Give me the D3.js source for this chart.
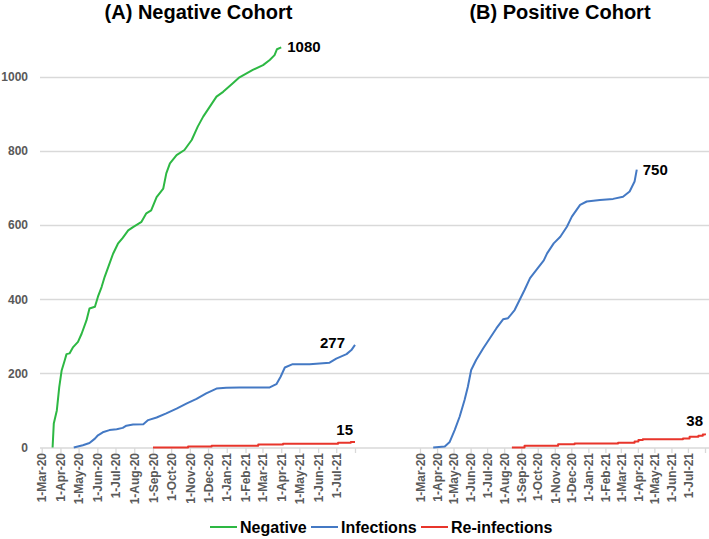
<!DOCTYPE html>
<html>
<head>
<meta charset="utf-8">
<script src="https://cdn.jsdelivr.net/npm/d3@7"></script>
<style>
  html, body { margin: 0; padding: 0; background: #fff; }
  svg { display: block; font-family: Arial, "Liberation Sans", sans-serif; }
</style>
</head>
<body>
<svg id="chart" width="709" height="539"></svg>
<script>
// ---------------- DATA ----------------
const panelTitles = ["(A) Negative Cohort", "(B) Positive Cohort"];
const seriesNames = ["Negative", "Infections", "Re-infections"];
const yTicks = [0, 200, 400, 600, 800, 1000];
const tickDates = ["2020-03-01","2020-04-01","2020-05-01","2020-06-01","2020-07-01","2020-08-01",
  "2020-09-01","2020-10-01","2020-11-01","2020-12-01","2021-01-01","2021-02-01","2021-03-01",
  "2021-04-01","2021-05-01","2021-06-01","2021-07-01","2021-08-01"];
const tickLabels = ["1-Mar-20","1-Apr-20","1-May-20","1-Jun-20","1-Jul-20","1-Aug-20","1-Sep-20",
  "1-Oct-20","1-Nov-20","1-Dec-20","1-Jan-21","1-Feb-21","1-Mar-21","1-Apr-21","1-May-21",
  "1-Jun-21","1-Jul-21",""];

// Panel A
const negCohortNegative = [
  ["2020-03-19",0],["2020-03-21",65],["2020-03-26",100],["2020-03-30",163],["2020-04-03",208],
  ["2020-04-08",235],["2020-04-11",252],["2020-04-16",254],["2020-04-22",271],["2020-04-30",285],
  ["2020-05-06",307],["2020-05-14",343],["2020-05-19",375],["2020-05-28",380],["2020-06-02",407],
  ["2020-06-08",433],["2020-06-13",460],["2020-06-19",487],["2020-06-27",523],["2020-07-05",550],
  ["2020-07-13",566],["2020-07-22",586],["2020-07-30",595],["2020-08-13",609],["2020-08-21",632],
  ["2020-08-29",640],["2020-09-07",676],["2020-09-18",699],["2020-09-23",740],["2020-09-29",767],
  ["2020-10-10",789],["2020-10-23",803],["2020-11-04",830],["2020-11-14",866],["2020-11-23",893],
  ["2020-12-04",920],["2020-12-15",947],["2020-12-26",960],["2021-01-11",983],["2021-01-22",999],
  ["2021-02-13",1019],["2021-03-02",1032],["2021-03-13",1046],["2021-03-21",1059],["2021-03-25",1075],
  ["2021-04-01",1080]];
const negCohortInfections = [
  ["2020-04-23",0],["2020-05-08",6],["2020-05-19",12],["2020-05-28",24],["2020-06-02",33],
  ["2020-06-10",41],["2020-06-21",47],["2020-07-03",49],["2020-07-13",53],["2020-07-19",59],
  ["2020-07-30",62],["2020-08-16",63],["2020-08-24",74],["2020-09-07",81],["2020-09-23",92],
  ["2020-10-10",105],["2020-10-27",119],["2020-11-12",131],["2020-11-28",146],["2020-12-15",159],
  ["2020-12-31",161],["2021-01-22",162],["2021-02-13",162],["2021-03-13",162],["2021-03-24",171],
  ["2021-03-31",191],["2021-04-07",216],["2021-04-20",225],["2021-05-18",225],["2021-06-20",229],
  ["2021-07-01",240],["2021-07-18",252],["2021-07-26",263],["2021-08-01",277]];
const negCohortReinfections = [
  ["2020-09-01",0],["2020-10-29",3],["2020-12-07",5],["2021-02-22",8],["2021-04-04",10],
  ["2021-07-04",13],["2021-07-25",15],["2021-08-01",15]];

// Panel B
const posCohortInfections = [
  ["2020-03-25",0],["2020-04-15",3],["2020-04-24",15],["2020-05-03",47],["2020-05-12",83],
  ["2020-05-21",128],["2020-05-27",164],["2020-06-02",209],["2020-06-11",236],["2020-06-24",268],
  ["2020-07-06",295],["2020-07-18",322],["2020-07-30",346],["2020-08-08",349],["2020-08-20",371],
  ["2020-08-29",398],["2020-09-07",425],["2020-09-17",457],["2020-09-30",482],["2020-10-12",505],
  ["2020-10-18",524],["2020-10-30",551],["2020-11-11",569],["2020-11-23",596],["2020-12-02",623],
  ["2020-12-17",655],["2020-12-29",664],["2021-01-22",668],["2021-02-15",671],["2021-03-05",677],
  ["2021-03-17",691],["2021-03-26",718],["2021-03-30",750]];
const posCohortReinfections = [
  ["2020-08-15",0],["2020-09-07",5],["2020-11-07",9],["2020-12-07",11],["2021-02-24",13],
  ["2021-03-26",16],["2021-04-02",20],["2021-04-10",22],["2021-06-22",24],["2021-07-04",29],
  ["2021-07-20",32],["2021-07-28",35],["2021-08-01",38]];

const endLabels = {
  negNegative: "1080", negInfections: "277", negReinfections: "15",
  posInfections: "750", posReinfections: "38"
};

// ---------------- DRAWING ----------------
const colors = { Negative: "#2DB843", Infections: "#4479C4", "Re-infections": "#E8352B" };
const gridColor = "#D9D9D9";
const labelGrey = "#595959";

const parse = d3.timeParse("%Y-%m-%d");
const prep = arr => arr.map(([d, v]) => ({ date: parse(d), value: v }));
const ticks = tickDates.map(parse);
const labelFor = new Map(ticks.map((t, i) => [+t, tickLabels[i]]));

const svg = d3.select("#chart");
const y = d3.scaleLinear().domain([0, 1000]).range([447.5, 77]);

const panels = [
  { title: panelTitles[0], titleX: 198.5, gridX: [40, 357], axisX: [40, 357], range: [41.7, 355],
    series: [
      { name: "Negative", data: prep(negCohortNegative), curve: d3.curveLinear, label: endLabels.negNegative, lpos: "right" },
      { name: "Infections", data: prep(negCohortInfections), curve: d3.curveLinear, label: endLabels.negInfections, lpos: "aboveLeft" },
      { name: "Re-infections", data: prep(negCohortReinfections), curve: d3.curveStepAfter, label: endLabels.negReinfections, lpos: "aboveLeftSmall" }
    ] },
  { title: panelTitles[1], titleX: 560, gridX: [357, 709], axisX: [357, 709], range: [420, 705],
    series: [
      { name: "Infections", data: prep(posCohortInfections), curve: d3.curveLinear, label: endLabels.posInfections, lpos: "right" },
      { name: "Re-infections", data: prep(posCohortReinfections), curve: d3.curveStepAfter, label: endLabels.posReinfections, lpos: "aboveLeftSmall" }
    ] }
];

panels.forEach((p, pi) => {
  const x = d3.scaleTime().domain([ticks[0], ticks[ticks.length - 1]]).range(p.range);
  const g = svg.append("g");

  // title
  g.append("text").attr("x", p.titleX).attr("y", 19).attr("text-anchor", "middle")
    .attr("font-size", 20).attr("font-weight", "bold").attr("fill", "#000").text(p.title);

  // gridlines
  g.selectAll(".grid").data(yTicks.filter(t => t > 0)).enter().append("line")
    .attr("x1", p.gridX[0]).attr("x2", p.gridX[1])
    .attr("y1", d => Math.round(y(d)) + 0.5).attr("y2", d => Math.round(y(d)) + 0.5)
    .attr("stroke", gridColor).attr("stroke-width", 1.3);

  // y labels (left panel only)
  if (pi === 0) {
    g.selectAll(".ylab").data(yTicks).enter().append("text")
      .attr("x", 28).attr("y", d => y(d)).attr("dy", "0.35em").attr("text-anchor", "end")
      .attr("font-size", 12).attr("font-weight", "bold").attr("fill", labelGrey).text(d => d);
  }

  // x axis line
  g.append("line").attr("x1", p.axisX[0]).attr("x2", p.axisX[1])
    .attr("y1", 448).attr("y2", 448).attr("stroke", gridColor).attr("stroke-width", 1.3);

  const axis = d3.axisBottom(x).tickValues(ticks).tickSize(5).tickSizeOuter(0)
    .tickFormat(d => labelFor.get(+d));
  const ax = g.append("g").attr("transform", "translate(0,448)").call(axis);
  ax.select(".domain").remove();
  ax.selectAll(".tick line").attr("stroke", gridColor).attr("stroke-width", 1.3);
  ax.selectAll(".tick text")
    .attr("transform", "rotate(-90)")
    .attr("x", -5).attr("y", 0).attr("dy", "0.35em")
    .style("text-anchor", "end")
    .attr("font-size", 12).attr("font-weight", "bold").attr("fill", labelGrey)
    .attr("font-family", "Arial, 'Liberation Sans', sans-serif");

  // series
  p.series.forEach(s => {
    const line = d3.line().x(d => x(d.date)).y(d => y(d.value)).curve(s.curve);
    g.append("path").datum(s.data).attr("d", line).attr("fill", "none")
      .attr("stroke", colors[s.name]).attr("stroke-width", 2).attr("stroke-linejoin", "round");

    const last = s.data[s.data.length - 1];
    const lx = x(last.date), ly = y(last.value);
    const t = g.append("text").attr("font-size", 15).attr("font-weight", "bold").attr("fill", "#000").text(s.label);
    if (s.lpos === "right") {
      t.attr("x", lx + 6).attr("y", ly + 5);
    } else if (s.lpos === "aboveLeft") {
      t.attr("x", lx - 10).attr("y", ly + 3).attr("text-anchor", "end");
    } else {
      t.attr("x", lx - 2).attr("y", ly - 7).attr("text-anchor", "end");
    }
  });
});

// legend
const legendItems = [
  { name: seriesNames[0], x: 210 },
  { name: seriesNames[1], x: 311 },
  { name: seriesNames[2], x: 421 }
];
const lg = svg.append("g");
legendItems.forEach(it => {
  lg.append("line").attr("x1", it.x).attr("x2", it.x + 27).attr("y1", 527).attr("y2", 527)
    .attr("stroke", colors[it.name]).attr("stroke-width", 2);
  lg.append("text").attr("x", it.x + 30).attr("y", 533).attr("font-size", 16)
    .attr("font-weight", "bold").attr("fill", "#000").text(it.name);
});
</script>
</body>
</html>
